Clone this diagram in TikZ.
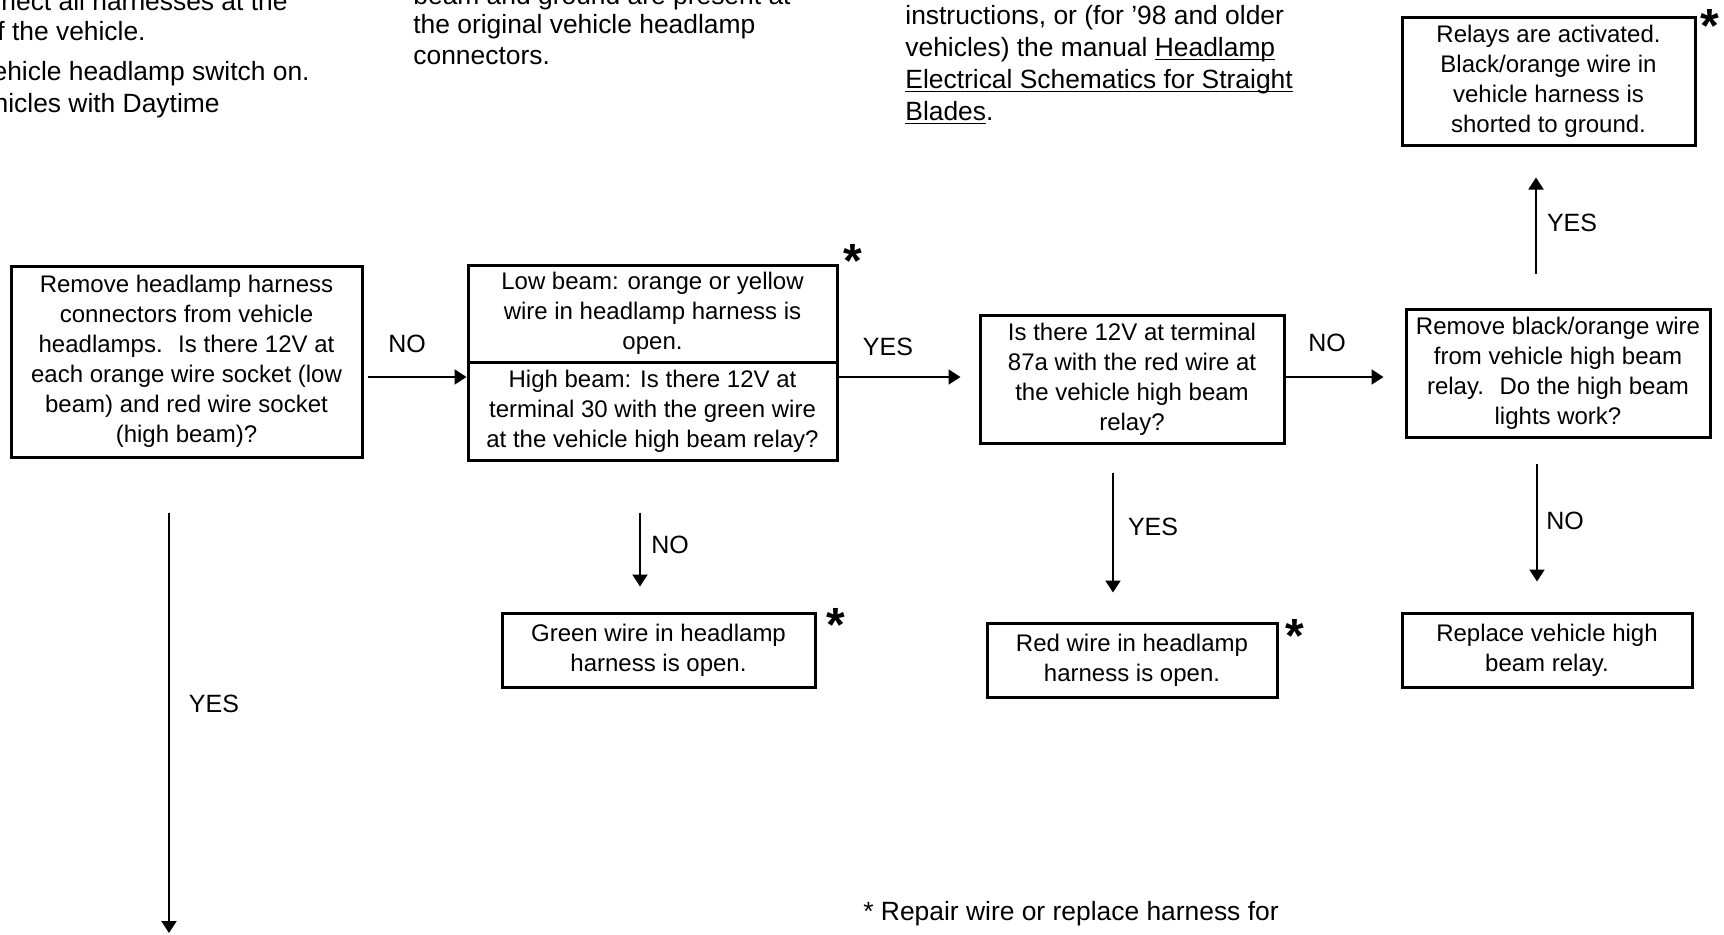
\documentclass[tikz,border=0pt]{standalone}
\usepackage{fontspec}
\setmainfont{Liberation Sans}
\usetikzlibrary{arrows.meta}
% underline drawn at a fixed depth below the baseline
\newcommand{\lineunder}[1]{\setbox0=\hbox{#1}\rlap{\rule[-2.2pt]{\wd0}{0.6pt}}\box0}
\begin{document}
\begin{tikzpicture}[x=0.5pt,y=-0.5pt,
  box/.style={draw,line width=1.5pt,align=center,inner sep=0pt,
    font=\fontsize{12}{15}\selectfont},
  arr/.style={line width=1pt,-{Triangle[length=6pt,width=7.5pt]}},
  lab/.style={font=\fontsize{12.5}{15}\selectfont,inner sep=0pt},
  star/.style={font=\fontsize{24}{24}\selectfont\bfseries,inner sep=0pt,anchor=base},
  txt/.style={font=\fontsize{13.2}{16}\selectfont,inner sep=0pt}]
\useasboundingbox (0,0) rectangle (1724,934);
\clip (0,0) rectangle (1724,934);

% running text around the chart
\node[txt,anchor=base east] (l1) at (288,10) {nect all harnesses at the};
\node[txt,anchor=base east] (l2) at (146,40) {f the vehicle.};
\node[txt,anchor=base east] (l3) at (310,80) {ehicle headlamp switch on.};
\node[txt,anchor=base east] (l4) at (220,112) {hicles with Daytime};

\node[txt,anchor=base west] (m1) at (413,4) {beam and ground are present at};
\node[txt,anchor=base west] (m2) at (413,33) {the original vehicle headlamp};
\node[txt,anchor=base west] (m3) at (413,64) {connectors.};

\node[txt,anchor=base west] (r1) at (905,24) {instructions, or (for ’98 and older};
\node[txt,anchor=base west] (r2) at (905,56) {vehicles) the manual \lineunder{Headlamp}};
\node[txt,anchor=base west] (r3) at (905,88) {\lineunder{Electrical Schematics for Straight}};
\node[txt,anchor=base west] (r4) at (905,120) {\lineunder{Blades}.};

\node[txt,anchor=base west] (fn) at (863,920) {* Repair wire or replace harness for};

% chart boxes
\node[box,minimum width=175.5pt,minimum height=95.5pt] (b1) at (186.5,361.5)
  {Remove headlamp harness\\connectors from vehicle\\headlamps.~ Is there 12V at\\each orange wire socket (low\\beam) and red wire socket\\(high beam)?};
\node[box,minimum width=184.5pt,minimum height=48.5pt] (b2a) at (652.5,313.5)
  {Low beam: orange or yellow\\wire in headlamp harness is\\open.};
\node[box,minimum width=184.5pt,minimum height=49pt] (b2b) at (652.5,411)
  {High beam: Is there 12V at\\terminal 30 with the green wire\\at the vehicle high beam relay?};
\node[box,minimum width=152pt,minimum height=64pt] (b3) at (1132,379)
  {Is there 12V at terminal\\87a with the red wire at\\the vehicle high beam\\relay?};
\node[box,minimum width=152pt,minimum height=64pt] (b4) at (1558,373)
  {Remove black/orange wire\\from vehicle high beam\\relay.~ Do the high beam\\lights work?};
\node[box,minimum width=146.5pt,minimum height=64pt] (b5) at (1548.5,81)
  {Relays are activated.\\Black/orange wire in\\vehicle harness is\\shorted to ground.};
\node[box,minimum width=145pt,minimum height=37pt] (b6) at (1547,650)
  {Replace vehicle high\\beam relay.};
\node[box,minimum width=145pt,minimum height=37pt] (b7) at (1132,660)
  {Red wire in headlamp\\harness is open.};
\node[box,minimum width=156.5pt,minimum height=37pt] (b8) at (658.5,650)
  {Green wire in headlamp\\harness is open.};

% repair marks
\node[star] (s2) at (853,277) {*};
\node[star] (s5) at (1710,42) {*};
\node[star] (s8) at (836,641) {*};
\node[star] (s7) at (1295,652) {*};

% connectors
\coordinate (down) at (169,933);
\draw[arr,shorten <=2pt] (b1.east |- 0,377) -- (b2b.west |- 0,377);
\draw[arr,shorten >=9pt] (b2b.east |- 0,377) -- (b3.west |- 0,377);
\draw[arr,shorten >=10.5pt] (b3.east |- 0,377) -- (b4.west |- 0,377);
\draw[arr,shorten <=17pt,shorten >=15.5pt] (b4.north -| 1536,0) -- (b5.south -| 1536,0);
\draw[arr,shorten <=12.5pt,shorten >=15pt] (b4.south -| 1537,0) -- (b6.north -| 1537,0);
\draw[arr,shorten <=14pt,shorten >=14.5pt] (b3.south -| 1113,0) -- (b7.north -| 1113,0);
\draw[arr,shorten <=25.5pt,shorten >=12.5pt] (b2b.south -| 640,0) -- (b8.north -| 640,0);
\draw[arr,shorten <=27pt] (b1.south -| down) -- (down);

% branch labels
\node[lab] (n1) at (407,344) {NO};
\node[lab] (y1) at (888,347) {YES};
\node[lab] (n2) at (1327,343) {NO};
\node[lab] (y2) at (1572,223) {YES};
\node[lab] (n3) at (1565,521) {NO};
\node[lab] (y3) at (1153,527) {YES};
\node[lab] (n4) at (670,545) {NO};
\node[lab] (y4) at (214,704) {YES};
\end{tikzpicture}
\end{document}
